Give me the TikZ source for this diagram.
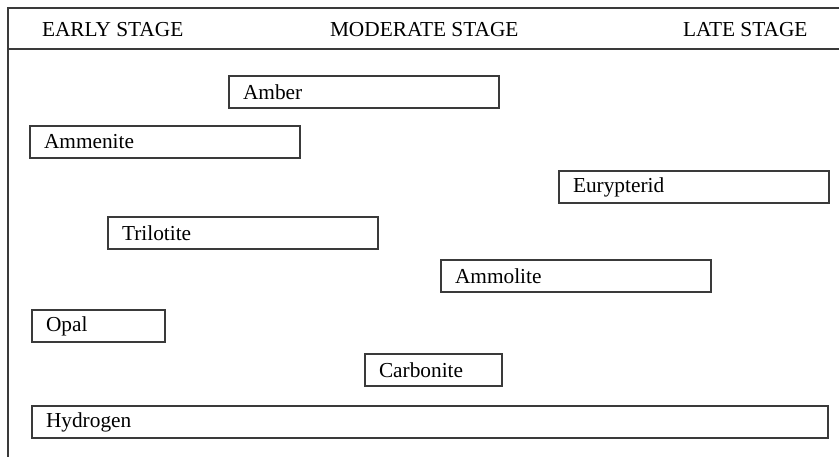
\documentclass[tikz,border=0pt]{standalone}
\usepackage{fontspec}
\setmainfont{Liberation Serif}
\definecolor{frInk}{HTML}{3A3A3A}

\begin{document}
\begin{tikzpicture}[
  x=0.75pt,y=-0.75pt,
  font=\fontsize{16}{19}\selectfont,
  every node/.style={text=black,outer sep=0pt},
  head/.style={anchor=base west,inner sep=0pt},
  fossil/.style={draw=frInk,line width=1pt,anchor=north west,align=left,
    minimum height=24pt,inner xsep=10.5pt,inner ysep=0pt,text width=#1},
  fossil/.default=181.5pt
]
\path[use as bounding box] (0,0) rectangle (839,457);
% frame
\draw[frInk,line width=1pt] (839,8) -- (8,8) -- (8,457);
\draw[frInk,line width=1pt] (8,49) -- (839,49);
% stages
\node[head] (early) at (42,36) {EARLY STAGE};
\node[head] (moderate) at (330,36) {MODERATE STAGE};
\node[head] (late) at (683,36) {LATE STAGE};
% fossils
\node[fossil] (amber) at (229,76) {Amber};
\node[fossil] (ammenite) at (30,126) {Ammenite};
\node[fossil] (eurypterid) at (559,171) {Eurypterid};
\node[fossil] (trilotite) at (108,217) {Trilotite};
\node[fossil] (ammolite) at (441,260) {Ammolite};
\node[fossil=78.75pt] (opal) at (32,310) {Opal};
\node[fossil=81.75pt] (carbonite) at (365,354) {Carbonite};
\node[fossil=576pt] (hydrogen) at (32,406) {Hydrogen};
\end{tikzpicture}
\end{document}
